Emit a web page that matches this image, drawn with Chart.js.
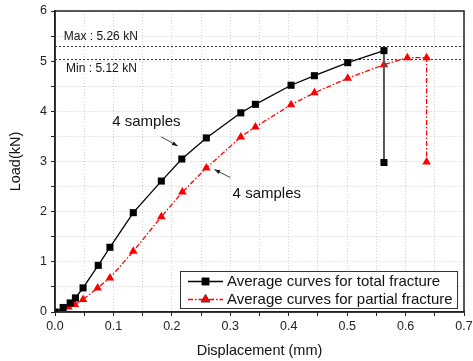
<!DOCTYPE html>
<html><head>
<meta charset="UTF-8">
<title>Load - Displacement</title>
<script src="https://cdn.jsdelivr.net/npm/chart.js"></script>
<style>
  html, body { margin: 0; padding: 0; background: #fff; }
  #wrap { width: 473px; height: 361px; }
</style>
</head>
<body>
<div id="wrap"><canvas id="loadChart" width="473" height="361"></canvas></div>
<script>
// data
const dispTotal = [0, 0.014, 0.026, 0.035, 0.048, 0.074, 0.094, 0.134, 0.182, 0.217, 0.259, 0.318, 0.343, 0.404, 0.444, 0.501, 0.563, 0.563];
const loadTotal = [0, 0.09, 0.18, 0.28, 0.48, 0.93, 1.29, 1.98, 2.61, 3.05, 3.47, 3.97, 4.14, 4.52, 4.71, 4.97, 5.21, 2.98];
const dispPartial = [0, 0.012, 0.023, 0.034, 0.048, 0.073, 0.094, 0.134, 0.182, 0.218, 0.259, 0.318, 0.343, 0.404, 0.444, 0.501, 0.563, 0.603, 0.636, 0.636];
const loadPartial = [0, 0.05, 0.10, 0.15, 0.25, 0.48, 0.68, 1.21, 1.90, 2.39, 2.87, 3.49, 3.69, 4.13, 4.37, 4.66, 4.93, 5.07, 5.07, 2.99];
const seriesNames = ['Average curves for total fracture', 'Average curves for partial fracture'];
const maxLoad = 5.31, minLoad = 5.05;
const maxLabel = 'Max : 5.26 kN', minLabel = 'Min : 5.12 kN';

const toPts = (xs, ys) => xs.map((x, i) => ({x: x, y: ys[i]}));
const FONT = '"Liberation Sans", Arial, sans-serif';
const RED = '#ff0000';

// frame, max/min lines, notes, arrows, legend
const extras = {
    id: 'extras',
    beforeDatasetsDraw(chart) {
        const {ctx, chartArea: a, scales: {x, y}} = chart;
        ctx.save();
        ctx.strokeStyle = '#333';
        ctx.lineWidth = 1;
        ctx.setLineDash([2, 2]);
        [maxLoad, minLoad].forEach(v => {
            const py = Math.round(y.getPixelForValue(v)) + 0.5;
            ctx.beginPath(); ctx.moveTo(a.left, py); ctx.lineTo(a.right, py); ctx.stroke();
        });
        ctx.restore();
    },
    afterDraw(chart) {
        const {ctx, chartArea: a, scales: {x, y}} = chart;
        ctx.save();
        // frame
        ctx.strokeStyle = '#222';
        ctx.lineWidth = 1.5;
        ctx.strokeRect(a.left, a.top, a.right - a.left, a.bottom - a.top);

        ctx.fillStyle = '#111';
        ctx.textBaseline = 'middle';
        ctx.font = '12px ' + FONT;
        ctx.fillText(maxLabel, x.getPixelForValue(0.015), y.getPixelForValue(5.49));
        ctx.fillText(minLabel, x.getPixelForValue(0.019), y.getPixelForValue(4.85));
        ctx.font = '15px ' + FONT;
        ctx.fillText('4 samples', x.getPixelForValue(0.098), y.getPixelForValue(3.80));
        ctx.fillText('4 samples', x.getPixelForValue(0.304), y.getPixelForValue(2.36));

        const arrow = (x0, y0, x1, y1) => {
            const X0 = x.getPixelForValue(x0), Y0 = y.getPixelForValue(y0);
            const X1 = x.getPixelForValue(x1), Y1 = y.getPixelForValue(y1);
            const ang = Math.atan2(Y1 - Y0, X1 - X0);
            ctx.strokeStyle = '#111'; ctx.lineWidth = 0.8;
            ctx.beginPath(); ctx.moveTo(X0, Y0); ctx.lineTo(X1, Y1); ctx.stroke();
            ctx.beginPath();
            ctx.moveTo(X1, Y1);
            ctx.lineTo(X1 - 6 * Math.cos(ang - 0.35), Y1 - 6 * Math.sin(ang - 0.35));
            ctx.lineTo(X1 - 6 * Math.cos(ang + 0.35), Y1 - 6 * Math.sin(ang + 0.35));
            ctx.closePath(); ctx.fill();
        };
        arrow(0.182, 3.49, 0.210, 3.31);
        arrow(0.300, 2.68, 0.273, 2.84);

        // legend box
        const bx = 180, by = 271, bw = 277, bh = 37;
        ctx.fillStyle = '#fff';
        ctx.fillRect(bx, by, bw, bh);
        ctx.strokeStyle = '#333'; ctx.lineWidth = 1;
        ctx.strokeRect(bx + 0.5, by + 0.5, bw, bh);
        const rows = [by + 10.5, by + 28.5];
        chart.data.datasets.forEach((ds, i) => {
            const ry = rows[i];
            ctx.save();
            ctx.strokeStyle = ds.borderColor; ctx.lineWidth = ds.borderWidth;
            ctx.setLineDash(ds.borderDash || []);
            ctx.beginPath(); ctx.moveTo(188, ry); ctx.lineTo(223, ry); ctx.stroke();
            ctx.restore();
            Chart.helpers.drawPoint(ctx, {pointStyle: ds.pointStyle, radius: ds.pointRadius, borderWidth: 1}, 205.5, ry);
            ctx.fillStyle = ds.borderColor;
            ctx.fill();
            ctx.fillStyle = '#111';
            ctx.font = '15px ' + FONT;
            ctx.fillText(ds.label, 227, ry + 0.5);
        });
        ctx.restore();
    }
};

new Chart(document.getElementById('loadChart').getContext('2d'), {
    type: 'line',
    data: {
        datasets: [{
            label: seriesNames[0],
            data: toPts(dispTotal, loadTotal),
            borderColor: '#000',
            backgroundColor: '#000',
            borderWidth: 1.3,
            pointStyle: 'rect',
            pointRadius: 5,
            pointBorderWidth: 0,
            segment: {
                borderColor: c => c.p1DataIndex === dispTotal.length - 1 ? '#555' : '#000',
                borderWidth: c => c.p1DataIndex === dispTotal.length - 1 ? 2 : 1.3
            },
            tension: 0
        }, {
            label: seriesNames[1],
            data: toPts(dispPartial, loadPartial),
            borderColor: RED,
            backgroundColor: RED,
            borderWidth: 1.3,
            borderDash: [5, 2, 1.5, 2],
            pointStyle: 'triangle',
            pointRadius: 5,
            pointBorderWidth: 0,
            tension: 0
        }]
    },
    options: {
        responsive: false,
        animation: false,
        layout: { padding: { top: 11, right: 9, left: 0, bottom: 0 } },
        plugins: { legend: { display: false }, tooltip: { enabled: false } },
        scales: {
            x: {
                type: 'linear',
                min: 0, max: 0.7,
                afterFit: s => { s.height = 49; s.paddingLeft = 0; s.paddingRight = 0; },
                ticks: {
                    stepSize: 0.05,
                    autoSkip: false,
                    maxRotation: 0,
                    padding: 3,
                    color: '#222',
                    font: { family: FONT, size: 12.5 },
                    callback: v => Math.abs(v * 10 - Math.round(v * 10)) < 1e-6 ? v.toFixed(1) : ''
                },
                grid: { color: '#cfcfcf', tickColor: '#222', tickLength: 4 },
                border: { color: '#222', width: 1.5, dash: [1, 2] },
                title: {
                    display: true,
                    text: 'Displacement (mm)',
                    color: '#111',
                    font: { family: FONT, size: 14.5 },
                    padding: { top: 0, bottom: 1 }
                }
            },
            y: {
                min: 0, max: 6,
                afterFit: s => { s.width = 55; s.paddingTop = 0; s.paddingBottom = 0; },
                ticks: {
                    stepSize: 0.5,
                    autoSkip: false,
                    padding: 4,
                    color: '#222',
                    font: { family: FONT, size: 12.5 },
                    callback: v => Number.isInteger(v) ? String(v) : ''
                },
                grid: { color: '#cfcfcf', tickColor: '#222', tickLength: 4 },
                border: { color: '#222', width: 1.5, dash: [1, 2] },
                title: {
                    display: true,
                    text: 'Load(kN)',
                    color: '#111',
                    font: { family: FONT, size: 14.5 },
                    padding: { top: 7, bottom: 0 }
                }
            }
        }
    },
    plugins: [extras]
});
</script>
</body></html>
